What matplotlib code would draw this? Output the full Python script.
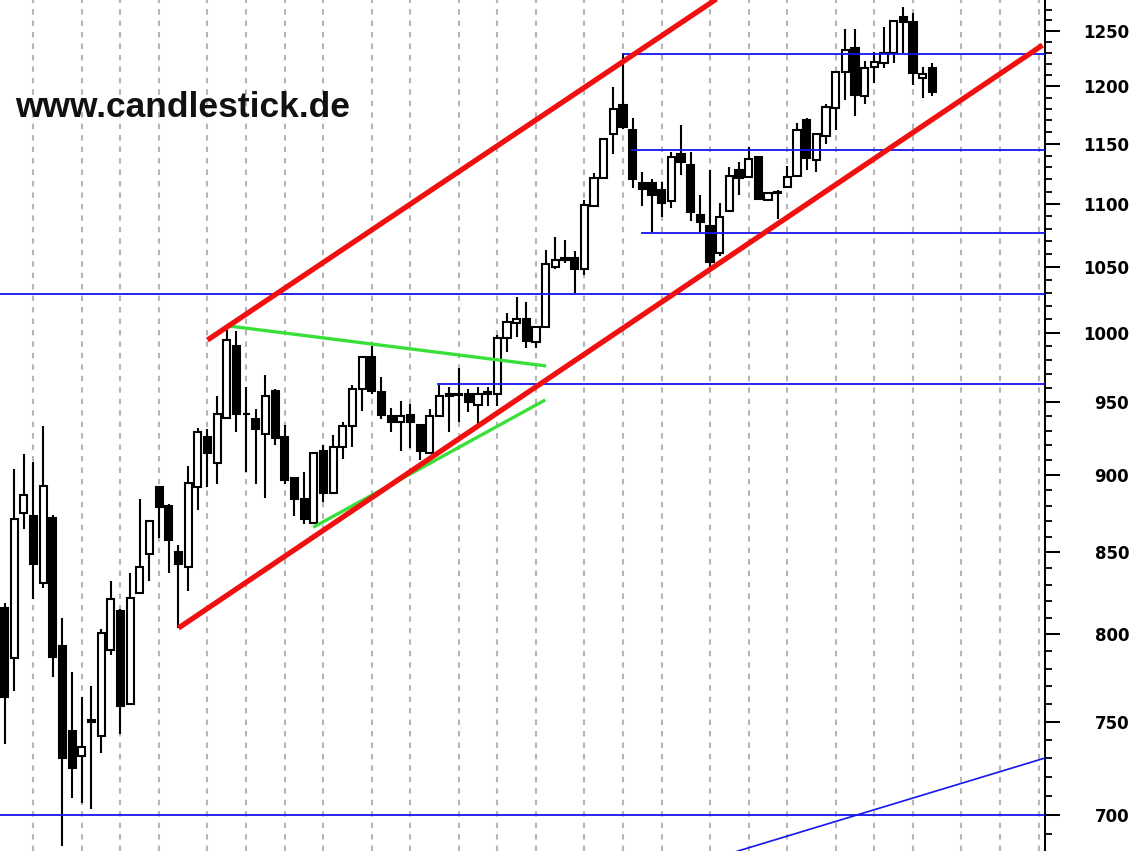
import matplotlib
matplotlib.use('Agg')
import matplotlib.pyplot as plt
from matplotlib.patches import Rectangle
from matplotlib.ticker import FixedLocator, FixedFormatter, NullFormatter

# Weekly candles (OHLC)
opens = [816, 786, 875, 873, 831, 872, 793, 745, 731, 750,
         742, 791, 814, 760, 825, 849, 892, 880, 850, 841,
         892, 926, 908, 939, 990, 941.5, 938, 928, 958, 926,
         898, 884, 869, 916, 888, 919, 933, 959, 982, 957,
         940, 936, 941, 934, 915, 940, 954, 955, 956, 948,
         956, 956, 996, 1007, 1010, 993, 1004, 1050, 1055, 1057,
         1048, 1098, 1121, 1158, 1183, 1162, 1117, 1117, 1111, 1102,
         1141, 1132, 1091, 1082, 1061, 1094, 1128, 1122, 1139, 1103,
         1109, 1114, 1123, 1170, 1136, 1157, 1181, 1213, 1234, 1191,
         1217, 1221, 1230, 1263, 1258, 1207, 1216]
highs = [819, 904, 914, 909, 933, 874, 810, 778, 764, 770,
         803, 832, 815, 837, 884, 870, 892, 881, 855, 906,
         932, 931, 954, 1002, 1001, 961, 945, 969, 959, 934,
         898, 902, 915, 920, 927, 936, 962, 982, 990, 968,
         946, 951, 949, 935, 945, 962, 961, 974, 959, 961,
         961, 998, 1015, 1027, 1023, 1004, 1063, 1073, 1071, 1062,
         1103, 1125, 1154, 1199, 1230, 1172, 1126, 1120, 1118, 1143,
         1166, 1143, 1107, 1128, 1101, 1130, 1135, 1147, 1140, 1109,
         1111, 1131, 1168, 1172, 1159, 1184, 1213, 1252, 1252, 1223,
         1231, 1254, 1259, 1272, 1267, 1217, 1221]
lows = [738, 767, 865, 821, 828, 775, 684, 709, 706, 703,
        733, 788, 743, 760, 825, 832, 859, 837, 804, 826,
        877, 892, 894, 939, 929, 902, 894, 885, 920, 894,
        873, 868, 869, 882, 888, 911, 919, 944, 956, 938,
        929, 916, 918, 910, 915, 940, 929, 936, 943, 935,
        947, 947, 986, 997, 989, 989, 1004, 1048, 1053, 1030,
        1044, 1098, 1121, 1141, 1163, 1113, 1098, 1077, 1089, 1097,
        1124, 1086, 1077, 1050, 1058, 1094, 1107, 1122, 1104, 1103,
        1088, 1114, 1123, 1128, 1126, 1150, 1162, 1188, 1174, 1184,
        1203, 1216, 1221, 1230, 1201, 1190, 1191]
closes = [764, 871, 887, 843, 893, 787, 730, 725, 736, 751,
          801, 821, 759, 822, 841, 870, 879, 858, 843, 895,
          929, 915, 942, 995, 942, 942, 931, 954, 925, 897,
          884, 871, 915, 888, 919, 933, 959, 982, 958, 941,
          936, 940, 936, 916, 940, 954, 956, 956, 950, 956,
          957, 996, 1008, 1010, 994, 1004, 1052, 1055, 1057, 1048,
          1099, 1121, 1154, 1180, 1164, 1120, 1112, 1107, 1101, 1139,
          1135, 1093, 1085, 1054, 1089, 1123, 1121, 1137, 1104, 1109,
          1109.5, 1122, 1162, 1138, 1158, 1182, 1213, 1233, 1192, 1216,
          1222, 1230, 1259, 1258, 1212, 1211, 1195]

# Candles on which a new month starts (vertical grid)
month_starts = [3, 8, 12, 16, 21, 25, 29, 33, 38, 42, 47, 51, 55, 60, 64,
                68, 73, 77, 81, 86, 90, 94, 99, 103, 107]

y_major = [700, 750, 800, 850, 900, 950, 1000, 1050, 1100, 1150, 1200, 1250]
y_minor = [v for v in range(690, 1280, 10) if v not in y_major]

# Trend lines (candle index, price)
red_upper_x, red_upper_y = [21.0, 74.0], [994.6, 1282.0]
red_lower_x, red_lower_y = [18.0, 107.4], [803.8, 1237.0]
green_top_x, green_top_y = [23.2, 56.05], [1005.0, 975.7]
green_bot_x, green_bot_y = [31.95, 55.95], [866.0, 951.5]
blue_diag_x, blue_diag_y = [74.0, 107.65], [678.8, 730.1]
# Horizontal levels: (start candle index, price)
blue_level_start = [-1.0, -1.0, 44.9, 64.0, 64.9, 66.0]
blue_level_price = [1029.1, 700.0, 962.9, 1229.1, 1144.8, 1076.6]

XMIN, XMAX = -0.466, 107.66
YMIN, YMAX = 681.6, 1279.0

fig = plt.figure(figsize=(11.36, 8.51), dpi=100)
fig.patch.set_facecolor('white')
ax = fig.add_axes([0, 0, 1045 / 1136, 1])
ax.set_yscale('log')
ax.set_xlim(XMIN, XMAX)
ax.set_ylim(YMIN, YMAX)

# grid
for m in month_starts:
    ax.axvline(m, color='#b5b5b5', lw=1.5, ls=(0, (2.6, 2.9)), zorder=1)

# candles
bw = 0.74
for i, (o, h, l, c) in enumerate(zip(opens, highs, lows, closes)):
    ax.plot([i, i], [l, h], color='black', lw=1.5, zorder=2, solid_capstyle='butt')
    up = c >= o
    bottom = min(o, c)
    height = max(abs(c - o), 0.4)
    ax.add_patch(Rectangle((i - bw / 2, bottom), bw, height,
                           facecolor='white' if up else 'black',
                           edgecolor='black', lw=1.5, zorder=3))

# blue levels
for s, p in zip(blue_level_start, blue_level_price):
    ax.plot([s, XMAX + 1], [p, p], color='#1414f0', lw=1.3, zorder=4)
ax.plot(blue_diag_x, blue_diag_y, color='#1414f0', lw=1.2, zorder=4)

# green triangle
ax.plot(green_top_x, green_top_y, color='#3ae03a', lw=2.4, zorder=5, solid_capstyle='butt')
ax.plot(green_bot_x, green_bot_y, color='#3ae03a', lw=2.4, zorder=5, solid_capstyle='butt')

# red channel
ax.plot(red_upper_x, red_upper_y, color='#f01010', lw=3.8, zorder=6, solid_capstyle='butt')
ax.plot(red_lower_x, red_lower_y, color='#f01010', lw=3.8, zorder=6, solid_capstyle='butt')

# axis styling
for side in ['left', 'top', 'bottom']:
    ax.spines[side].set_visible(False)
ax.spines['right'].set_linewidth(1.45)
ax.set_xticks([])
ax.yaxis.tick_right()
ax.yaxis.set_major_locator(FixedLocator(y_major))
ax.yaxis.set_major_formatter(FixedFormatter([str(v) for v in y_major]))
ax.yaxis.set_minor_locator(FixedLocator(y_minor))
ax.yaxis.set_minor_formatter(NullFormatter())
ax.tick_params(axis='y', which='major', length=10.8, width=1.45, pad=49.7,
               labelsize=12, colors='black')
ax.tick_params(axis='y', which='minor', length=5, width=1.3)
for lbl in ax.get_yticklabels():
    lbl.set_ha('right')
    lbl.set_fontweight('heavy')
    lbl.set_family('DejaVu Sans')

fig.text(15 / 1136, 1 - 117 / 851, 'www.candlestick.de', fontsize=25.5,
         fontweight='bold', family='Liberation Sans', ha='left', va='baseline',
         color='#111111')

fig.savefig('out.png', dpi=100, facecolor='white')
